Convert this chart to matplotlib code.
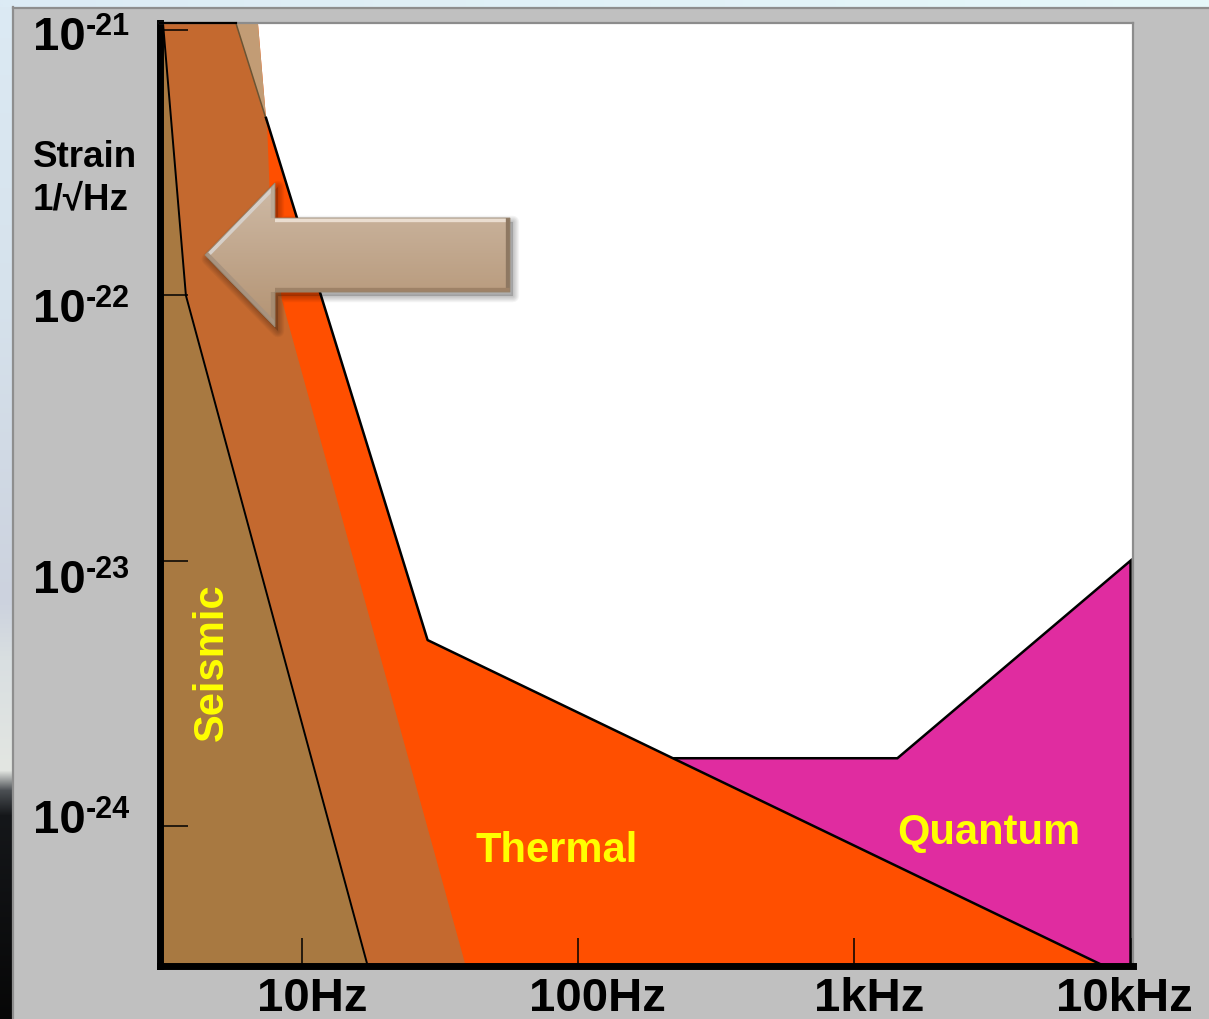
import numpy as np
import matplotlib
matplotlib.use("Agg")
import matplotlib.pyplot as plt
from matplotlib.patches import Polygon
from matplotlib.lines import Line2D
from matplotlib.ticker import NullLocator

# ---- noise curves: frequency [Hz] and strain [1/sqrt(Hz)] ----
seismic_hz = [3.14, 3.80, 17.4]
seismic_strain = [1.06e-21, 1.0e-22, 2.9e-25]

seismic_initial_hz = [5.77, 7.47, 7.65, 8.46, 39.4]
seismic_initial_strain = [1.06e-21, 4.51e-22, 2.39e-22, 9.6e-23, 2.9e-25]

thermal_hz = [6.93, 7.41, 28.5, 8390]
thermal_strain = [1.06e-21, 4.67e-22, 5.02e-24, 2.9e-25]

quantum_hz = [150, 1432, 10000]
quantum_strain = [1.8e-24, 1.8e-24, 1.0e-23]

x_ticks = [10, 100, 1000, 10000]
x_tick_labels = ["10Hz", "100Hz", "1kHz", "10kHz"]
y_ticks = [1e-21, 1e-22, 1e-23, 1e-24]
y_tick_exponents = ["-21", "-22", "-23", "-24"]

# ---- style ----
W, H = 1209, 1019
GRAY = "#C0C0C0"
C_SEIS = "#A87941"
C_SEIS0 = "#C4692F"
C_THERM = "#FF4F00"
C_TAN = "#C29C75"
C_QUANT = "#E02CA0"
YELLOW = "#FFFF00"
FONT = ["Liberation Sans", "DejaVu Sans"]
plt.rcParams["font.family"] = FONT

fig = plt.figure(figsize=(W / 100, H / 100), dpi=100, facecolor=GRAY)

# backdrop: photo strip at the left edge and sky band on top
bg = fig.add_axes([0, 0, 1, 1], zorder=-10)
bg.set_axis_off()
stops = [(0, "#DCEAF4"), (300, "#D6E2EC"), (600, "#CCD2DE"), (660, "#D9DFE1"),
         (770, "#E3E6E2"), (790, "#4C5054"), (815, "#15171A"), (H, "#070707")]
ys = np.arange(H)
cols = np.array([matplotlib.colors.to_rgb(c) for _, c in stops])
pos = np.array([p for p, _ in stops])
strip = np.stack([np.interp(ys, pos, cols[:, k]) for k in range(3)], axis=-1)[:, None, :]
bg.imshow(strip, extent=[0, 13, H, 0], aspect="auto", interpolation="bilinear")
top_band = np.linspace(matplotlib.colors.to_rgb("#DCEBF5"), matplotlib.colors.to_rgb("#E6F8FA"), 200)[None, :, :]
bg.imshow(top_band, extent=[0, W, 7, 0], aspect="auto", interpolation="bilinear")
bg.plot([13, 13], [7, H], color="#8E8E8E", lw=1.6)
bg.plot([13, W], [7.5, 7.5], color="#8E8E8E", lw=1.6)
bg.set_xlim(0, W)
bg.set_ylim(H, 0)

# ---- main axes ----
left, right, top, bottom = 160, 1133, 23, 966
ax = fig.add_axes([left / W, (H - bottom) / H, (right - left) / W, (bottom - top) / H])
ax.set_facecolor("white")
ax.set_xscale("log")
ax.set_yscale("log")
ax.set_xlim(10 ** 0.486, 10 ** 4.009)
ax.set_ylim(10 ** -24.528, 10 ** -20.973)

X_FAR, Y_HI, Y_LO = 1.0, 1e-19, 1e-27


def region_left_of(hz, strain):
    return ([(X_FAR, Y_HI), (hz[0], Y_HI)] + list(zip(hz, strain)) +
            [(hz[-1], Y_LO), (X_FAR, Y_LO)])


# quantum (drawn first; thermal covers its left part)
q_verts = list(zip(quantum_hz, quantum_strain)) + [(quantum_hz[-1], Y_LO), (quantum_hz[0], Y_LO)]
ax.add_patch(Polygon(q_verts, closed=True, facecolor=C_QUANT, edgecolor="black", lw=1.8, zorder=1))

# thermal
ax.add_patch(Polygon(region_left_of(thermal_hz, thermal_strain), closed=True,
                     facecolor=C_THERM, edgecolor="none", zorder=1.1))
tan_verts = [(X_FAR, Y_HI), (thermal_hz[0], Y_HI), (thermal_hz[0], thermal_strain[0]),
             (thermal_hz[1], thermal_strain[1]), (X_FAR, thermal_strain[1])]
ax.add_patch(Polygon(tan_verts, closed=True, facecolor=C_TAN, edgecolor="none", zorder=1.2))
ax.plot(thermal_hz[1:], thermal_strain[1:], color="black", lw=1.8, zorder=1.6)

# seismic walls
ax.add_patch(Polygon(region_left_of(seismic_initial_hz, seismic_initial_strain), closed=True,
                     facecolor=C_SEIS0, edgecolor="none", zorder=1.3))
ax.plot(seismic_initial_hz[:2], seismic_initial_strain[:2], color="#6A5434", lw=1.1, zorder=1.35)
ax.add_patch(Polygon(region_left_of(seismic_hz, seismic_strain), closed=True,
                     facecolor=C_SEIS, edgecolor="none", zorder=1.4))
ax.plot(seismic_hz, seismic_strain, color="black", lw=1.4, zorder=1.5)
ax.plot([ax.get_xlim()[0], seismic_initial_hz[0]], [ax.get_ylim()[1]] * 2,
        color="black", lw=1.6, zorder=3, clip_on=False)

# axes frame and ticks
for s in ("left", "bottom"):
    ax.spines[s].set_linewidth(5)
    ax.spines[s].set_color("black")
for s in ("top", "right"):
    ax.spines[s].set_linewidth(1.6)
    ax.spines[s].set_color("#8C8C8C")
ax.set_xticks(x_ticks)
ax.set_yticks(y_ticks)
ax.xaxis.set_minor_locator(NullLocator())
ax.yaxis.set_minor_locator(NullLocator())
ax.set_xticklabels([])
ax.set_yticklabels([])
ax.tick_params(axis="both", which="major", direction="in", length=20, width=1.1, color="black")

# tick labels
x_label_dx = [10, 19, 15, -6]
for t, lab, dx in zip(x_ticks, x_tick_labels, x_label_dx):
    ax.annotate(lab, xy=(t, 0), xycoords=("data", "axes fraction"), xytext=(dx, -45),
                textcoords="offset pixels", ha="center", va="baseline",
                fontsize=34, fontweight="bold", color="black", annotation_clip=False)

y_label_dy = [-20, -27, -32, -7]
for t, ex, dy in zip(y_ticks, y_tick_exponents, y_label_dy):
    ax.annotate("10", xy=(0, t), xycoords=("axes fraction", "data"), xytext=(-74, dy),
                textcoords="offset pixels", ha="right", va="baseline",
                fontsize=34, fontweight="bold", color="black", annotation_clip=False)
    ax.annotate(ex, xy=(0, t), xycoords=("axes fraction", "data"), xytext=(-74, dy + 15),
                textcoords="offset pixels", ha="left", va="baseline",
                fontsize=22, fontweight="bold", color="black", annotation_clip=False)

ax.annotate("Strain", xy=(0, 1), xycoords="axes fraction", xytext=(-127, -144),
            textcoords="offset pixels", ha="left", va="baseline",
            fontsize=26.5, fontweight="bold", color="black", annotation_clip=False)
ax.annotate("1/\u221aHz", xy=(0, 1), xycoords="axes fraction", xytext=(-127, -186),
            textcoords="offset pixels", ha="left", va="baseline",
            fontsize=26.5, fontweight="bold", color="black", annotation_clip=False)

# region names
ax.text(0.0535, 0.322, "Seismic", transform=ax.transAxes, rotation=90, ha="center", va="center",
        fontsize=30, fontweight="bold", color=YELLOW, zorder=4)
ax.text(0.408, 0.110, "Thermal", transform=ax.transAxes, ha="center", va="baseline",
        fontsize=30, fontweight="bold", color=YELLOW, zorder=4)
ax.text(0.852, 0.129, "Quantum", transform=ax.transAxes, ha="center", va="baseline",
        fontsize=30, fontweight="bold", color=YELLOW, zorder=4)

# ---- beveled arrow pointing toward low frequencies ----
ov = fig.add_axes(ax.get_position(), zorder=ax.get_zorder() + 1)
ov.set_axis_off()
ov.patch.set_alpha(0)
arrow_pts = np.array([
    (0.0462, 0.7540), (0.1182, 0.8303), (0.1182, 0.7932), (0.3597, 0.7932),
    (0.3597, 0.7147), (0.1182, 0.7147), (0.1182, 0.6776),
])
# soft drop shadow, built from a stack of faint widening outlines
for k in range(6):
    off = np.array([0.0030, -0.0042])
    ov.add_patch(Polygon(arrow_pts + off, closed=True, facecolor="none", edgecolor="black",
                         lw=1 + 1.6 * k, alpha=0.045, joinstyle="round", zorder=1))
ov.add_patch(Polygon(arrow_pts + np.array([0.0030, -0.0042]), closed=True, facecolor="black",
                     edgecolor="none", alpha=0.18, zorder=1))
body = Polygon(arrow_pts, closed=True, facecolor="none", edgecolor="none", zorder=2)
ov.add_patch(body)
grad = np.linspace(matplotlib.colors.to_rgb("#D0BDAA"), matplotlib.colors.to_rgb("#B29170"), 128)[:, None, :]
im = ov.imshow(grad, extent=[0.04, 0.37, 0.67, 0.84], aspect="auto", interpolation="bilinear",
               origin="upper", zorder=2)
im.set_clip_path(body)
bevel = [
    (0, 1, "#D6CFC8"), (1, 2, "#BBA995"), (2, 3, "#EADDD0"), (3, 4, "#8E7862"),
    (4, 5, "#9E8267"), (5, 6, "#A68B70"), (6, 0, "#A8937F"),
]
for i, j, c in bevel:
    ln = Line2D([arrow_pts[i, 0], arrow_pts[j, 0]], [arrow_pts[i, 1], arrow_pts[j, 1]],
                color=c, lw=6, solid_capstyle="butt", zorder=3)
    ov.add_line(ln)
    ln.set_clip_path(body)
ov.add_patch(Polygon(arrow_pts, closed=True, facecolor="none", edgecolor="#94826C", lw=0.6, zorder=4))
ov.set_xlim(0, 1)
ov.set_ylim(0, 1)

fig.savefig("out.png", dpi=100, facecolor=GRAY)
